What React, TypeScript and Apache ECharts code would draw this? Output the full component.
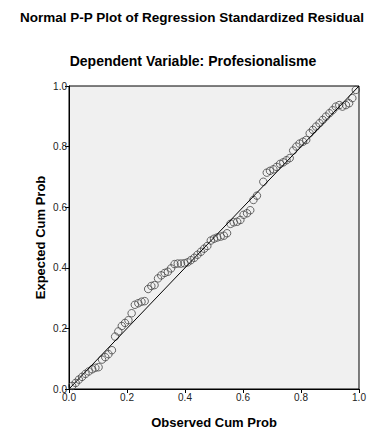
import React, { useEffect, useRef } from "react";
import * as echarts from "echarts";

const titleText = "Normal P-P Plot of Regression Standardized Residual";
const subtitleText = "Dependent Variable: Profesionalisme";
const xAxisName = "Observed Cum Prob";
const yAxisName = "Expected Cum Prob";

const observedCumProb = [
  0.011, 0.023, 0.034, 0.045, 0.057, 0.068, 0.08, 0.091, 0.102, 0.114, 0.125, 0.136, 0.148, 0.159,
  0.17, 0.182, 0.193, 0.205, 0.216, 0.227, 0.239, 0.25, 0.261, 0.273, 0.284, 0.295, 0.307, 0.318,
  0.33, 0.341, 0.352, 0.364, 0.375, 0.386, 0.398, 0.409, 0.42, 0.432, 0.443, 0.455, 0.466, 0.477,
  0.489, 0.5, 0.511, 0.523, 0.534, 0.545, 0.557, 0.568, 0.58, 0.591, 0.602, 0.614, 0.625, 0.636,
  0.648, 0.67, 0.682, 0.693, 0.705, 0.716, 0.728, 0.739, 0.75, 0.761, 0.773, 0.784, 0.795, 0.807,
  0.818, 0.83, 0.841, 0.852, 0.864, 0.875, 0.886, 0.898, 0.909, 0.92, 0.932, 0.943, 0.955, 0.966,
  0.977, 0.989,
];
const expectedCumProb = [
  0.01, 0.02, 0.031, 0.04, 0.05, 0.058, 0.065, 0.07, 0.072, 0.097, 0.105, 0.115, 0.128, 0.173,
  0.19, 0.208, 0.218, 0.227, 0.25, 0.278, 0.283, 0.288, 0.29, 0.33, 0.34, 0.343, 0.365, 0.375,
  0.383, 0.387, 0.398, 0.412, 0.414, 0.414, 0.415, 0.418, 0.425, 0.433, 0.443, 0.453, 0.463, 0.472,
  0.49, 0.496, 0.5, 0.503, 0.506, 0.514, 0.545, 0.55, 0.552, 0.558, 0.575, 0.58, 0.59, 0.624,
  0.638, 0.684, 0.714, 0.72, 0.725, 0.733, 0.743, 0.748, 0.755, 0.762, 0.787, 0.8, 0.81, 0.816,
  0.822, 0.844, 0.855, 0.866, 0.877, 0.888, 0.899, 0.91, 0.92, 0.932, 0.937, 0.932, 0.937, 0.943,
  0.96, 0.987,
];
const referenceLine = [
  [0, 0],
  [1, 1],
];

const FONT = "'Liberation Sans', Arial, sans-serif";

export default function App() {
  const ref = useRef<HTMLDivElement>(null);
  useEffect(() => {
    if (!ref.current) return;
    const chart = echarts.init(ref.current, null, { renderer: "svg" });
    const points = observedCumProb.map((x, i) => [x, expectedCumProb[i]]);
    chart.setOption({
      animation: false,
      backgroundColor: "#ffffff",
      title: [
        {
          text: titleText,
          left: 187,
          top: 5,
          textAlign: "center",
          textStyle: { fontFamily: FONT, fontSize: 13.5, fontWeight: "bold", color: "#000" },
        },
        {
          text: subtitleText,
          left: 188,
          top: 49,
          textAlign: "center",
          textStyle: { fontFamily: FONT, fontSize: 14, fontWeight: "bold", color: "#000" },
        },
      ],
      grid: {
        left: 69,
        top: 86,
        width: 290,
        height: 303,
        show: true,
        backgroundColor: "#f0f0f0",
        borderColor: "#000",
        borderWidth: 1,
        outerBoundsMode: "none",
        containLabel: false,
      },
      xAxis: {
        type: "value",
        min: 0,
        max: 1,
        interval: 0.2,
        name: xAxisName,
        nameLocation: "middle",
        nameGap: 26.5,
        nameMoveOverlap: false,
        nameTextStyle: { fontFamily: FONT, fontSize: 13, fontWeight: "bold", color: "#000" },
        axisLine: { show: true, lineStyle: { color: "#000", width: 1 } },
        axisTick: { show: true, length: 4, lineStyle: { color: "#000" } },
        axisLabel: {
          fontFamily: FONT,
          fontSize: 10,
          color: "#222",
          margin: 3,
          formatter: (v: number) => v.toFixed(1),
        },
        splitLine: { show: false },
      },
      yAxis: {
        type: "value",
        min: 0,
        max: 1,
        interval: 0.2,
        name: yAxisName,
        nameLocation: "middle",
        nameGap: 22.5,
        nameMoveOverlap: false,
        nameTextStyle: { fontFamily: FONT, fontSize: 13, fontWeight: "bold", color: "#000" },
        axisLine: { show: true, lineStyle: { color: "#000", width: 1 } },
        axisTick: { show: true, length: 4, lineStyle: { color: "#000" } },
        axisLabel: {
          fontFamily: FONT,
          fontSize: 10,
          color: "#222",
          margin: 2,
          formatter: (v: number) => v.toFixed(1),
        },
        splitLine: { show: false },
      },
      series: [
        {
          type: "line",
          data: referenceLine,
          symbol: "none",
          lineStyle: { color: "#000", width: 1 },
          z: 3,
        },
        {
          type: "scatter",
          data: points,
          symbol: "circle",
          symbolSize: 7.5,
          itemStyle: { color: "rgba(0,0,0,0)", borderColor: "#444", borderWidth: 1 },
          z: 2,
        },
      ],
    });
    return () => chart.dispose();
  }, []);
  return (
    <div
      ref={ref}
      style={{ position: "fixed", left: 0, top: 0, width: 368, height: 430 }}
    />
  );
}
